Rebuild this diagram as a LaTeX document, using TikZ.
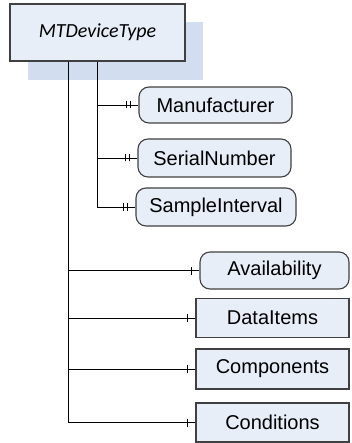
\documentclass[tikz,border=0pt]{standalone}
\usepackage{fontspec}
\setmainfont{Liberation Sans}
\newfontfamily\calibri{Carlito}
\definecolor{boxfill}{RGB}{232,238,248}
\definecolor{backdrop}{RGB}{210,221,240}
\definecolor{edge}{RGB}{64,64,64}
\begin{document}
\begin{tikzpicture}[x=1pt,y=-1pt,
  elem/.style={draw=edge, line width=1.1pt, fill=boxfill, font=\fontsize{20}{24}\selectfont,
    inner sep=0pt, minimum height=37pt},
  relem/.style={elem, rounded corners=10pt},
  link/.style={line width=0.9pt, black},
  tick/.style={line width=0.9pt, black}]
\useasboundingbox (0,0) rectangle (351,443);
% tinted backdrop behind the type box
\fill[backdrop] (28,22) rectangle (203,80);
\node[elem, minimum width=175pt, minimum height=57pt, font=\calibri\itshape\fontsize{20}{24}\selectfont]
  (top) at (97.5,32.5) {MTDeviceType};
\coordinate (trunk) at ([xshift=-29.5pt]top.south);
% sequence elements
\node[relem, minimum width=153pt, minimum height=36pt] (man) at (215.5,105) {Manufacturer};
\node[relem, minimum width=153pt, minimum height=38pt] (ser) at (214.5,158) {SerialNumber};
\node[relem, minimum width=160pt, minimum height=38pt] (samp) at (216,207) {SampleInterval};
\node[relem, minimum width=149pt, minimum height=37pt] (avail) at (274.5,270.5) {Availability};
\node[elem, minimum width=153pt, minimum height=39pt] (items) at (272.5,318) {DataItems};
\node[elem, minimum width=153pt, minimum height=40pt] (comps) at (272.5,369) {Components};
\node[elem, minimum width=153pt, minimum height=39pt] (conds) at (272.5,422.5) {Conditions};
% connectors
\foreach \n in {man,ser,samp}{
  \draw[link] (top.south) |- (\n.west);
  \draw[tick] ([xshift=-12pt,yshift=-3.5pt]\n.west) -- ++(0,7pt);
  \draw[tick] ([xshift=-8pt,yshift=-3.5pt]\n.west) -- ++(0,7pt);
}
\foreach \n in {avail,items,comps,conds}{
  \draw[link] (trunk) |- (\n.west);
  \draw[tick] ([xshift=-8pt,yshift=-4pt]\n.west) -- ++(0,8pt);
}
\end{tikzpicture}
\end{document}
